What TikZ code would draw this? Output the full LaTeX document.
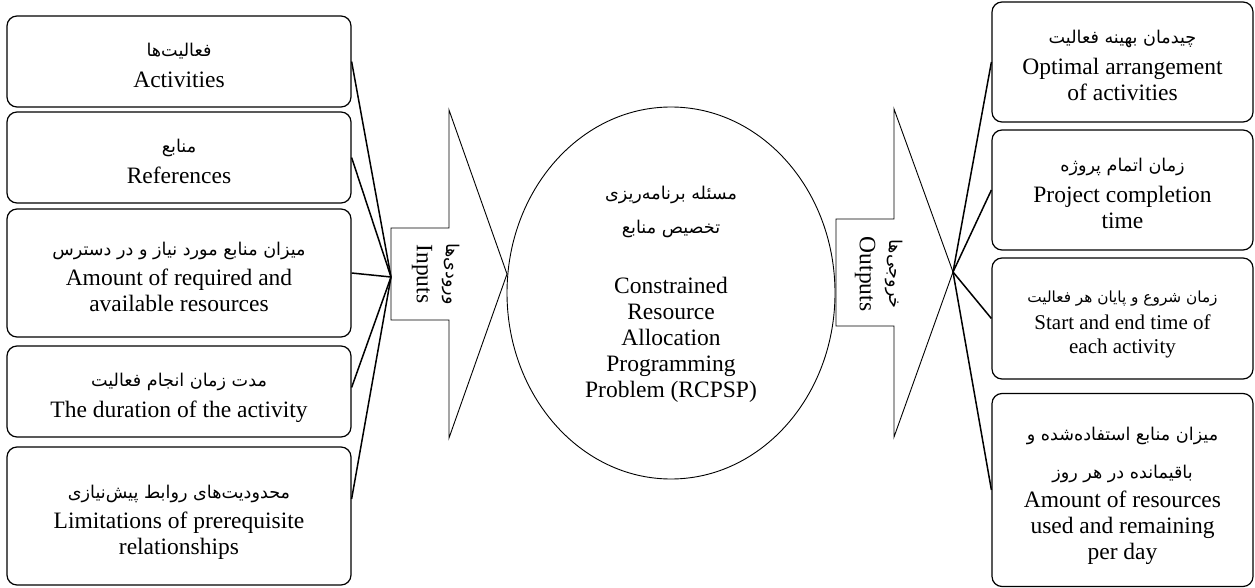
\documentclass[tikz,border=0pt]{standalone}
\usepackage{fontspec}
\setmainfont{Liberation Serif}
\newfontfamily\fa[Script=Arabic]{DejaVu Sans}
\usetikzlibrary{shapes.geometric}
\TeXXeTstate=1
\newcommand\zw{^^^^200c}
\newcommand\fat[1]{{\fa\fontsize{17.6}{21}\selectfont\beginR #1\endR}}
\newcommand\dn[1]{\raisebox{-5pt}[\height][\depth]{#1}}
\begin{document}
\begin{tikzpicture}[x=1pt,y=-1pt,
  every node/.style={font=\fontsize{23.5}{26}\selectfont},
  lbox/.style={draw, line width=1.2pt, rounded corners=10pt, minimum width=344pt, inner sep=0pt},
  rbox/.style={draw, line width=1.2pt, rounded corners=10pt, minimum width=261pt, inner sep=0pt},
  conn/.style={line width=1.5pt},
  outline/.style={line width=0.9pt},
  small/.style={font=\fontsize{21}{24}\selectfont}]
\useasboundingbox (0,0) rectangle (1255,588);

% left boxes
\node[lbox, minimum height=91pt] (L1) at (179,61.5)
  {\dn{\begin{tabular}{@{}c@{}}\fat{فعالیت\zw ها}\\[5pt] Activities\end{tabular}}};
\node[lbox, minimum height=91pt] (L2) at (179,157.5)
  {\dn{\begin{tabular}{@{}c@{}}\fat{منابع}\\[5pt] References\end{tabular}}};
\node[lbox, minimum height=128pt] (L3) at (179,273)
  {\dn{\begin{tabular}{@{}c@{}}\fat{میزان منابع مورد نیاز و در دسترس}\\[4pt] Amount of required and\\ available resources\end{tabular}}};
\node[lbox, minimum height=91pt] (L4) at (179,391.5)
  {\dn{\begin{tabular}{@{}c@{}}\fat{مدت زمان انجام فعالیت}\\[5pt] The duration of the activity\end{tabular}}};
\node[lbox, minimum height=138pt] (L5) at (179,516)
  {\dn{\begin{tabular}{@{}c@{}}\fat{محدودیت\zw های روابط پیش\zw نیازی}\\[4pt] Limitations of prerequisite\\ relationships\end{tabular}}};

% inputs arrow
\draw[outline] (391,228) -- (449,228) -- (449,110) -- (507,274) -- (449,438) -- (449,320) -- (391,320) -- cycle;
\coordinate (inL) at (391,277);
\node[rotate=-90] (inT) at (437,274)
  {\begin{tabular}{@{}c@{}}\fat{ورودی\zw ها}\\[4pt] Inputs\end{tabular}};

% centre ellipse
\node[draw, outline, ellipse, minimum width=328pt, minimum height=372pt, inner sep=0pt] (C) at (671,293)
  {\begin{tabular}{@{}c@{}}\fat{مسئله برنامه\zw ریزی}\\[8pt]\fat{تخصیص منابع}\\[8pt] \\ Constrained\\ Resource\\ Allocation\\ Programming\\ Problem (RCPSP)\end{tabular}};

% outputs arrow
\draw[outline] (836,219) -- (894,219) -- (894,109) -- (953,272) -- (894,437) -- (894,326) -- (836,326) -- cycle;
\coordinate (outR) at (953,272);
\node[rotate=-90] (outT) at (880,274)
  {\begin{tabular}{@{}c@{}}\fat{خروجی\zw ها}\\[4pt] Outputs\end{tabular}};

% right boxes
\node[rbox, minimum height=120pt] (R1) at (1122.5,62)
  {\dn{\begin{tabular}{@{}c@{}}\fat{چیدمان بهینه فعالیت}\\[5pt] Optimal arrangement\\ of activities\end{tabular}}};
\node[rbox, minimum height=120pt] (R2) at (1122.5,190)
  {\dn{\begin{tabular}{@{}c@{}}\fat{زمان اتمام پروژه}\\[5pt] Project completion\\ time\end{tabular}}};
\node[rbox, minimum height=121pt, small] (R3) at (1122.5,318.5)
  {\dn{\begin{tabular}{@{}c@{}}{\fa\fontsize{15.3}{18}\selectfont\beginR زمان شروع و پایان هر فعالیت\endR}\\[3pt] Start and end time of\\ each activity\end{tabular}}};
\node[rbox, minimum height=193pt] (R4) at (1122.5,490)
  {\dn{\begin{tabular}{@{}c@{}}\fat{میزان منابع استفاده\zw شده و}\\[12pt]\fat{باقیمانده در هر روز}\\[3pt] Amount of resources\\ used and remaining\\ per day\end{tabular}}};

% connectors
\draw[conn] (L1.east) -- (inL);
\draw[conn] (L2.east) -- (inL);
\draw[conn] (L3.east) -- (inL);
\draw[conn] ([yshift=4pt]L4.east) -- (inL);
\draw[conn] ([yshift=17pt]L5.east) -- (inL);
\draw[conn] (outR) -- (R1.west);
\draw[conn] (outR) -- (R2.west);
\draw[conn] (outR) -- (R3.west);
\draw[conn] (outR) -- (R4.west);
\end{tikzpicture}
\end{document}
